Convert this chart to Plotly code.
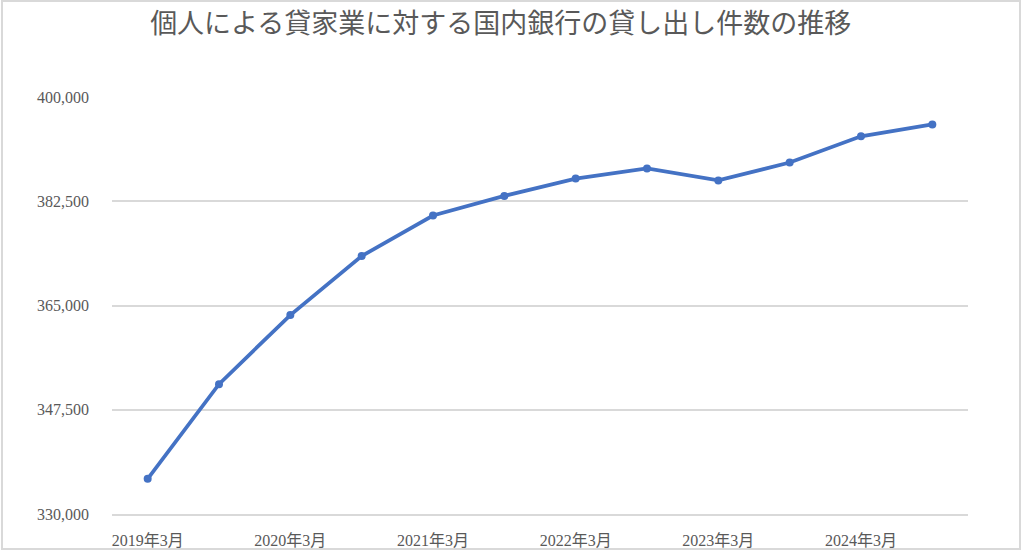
import plotly.graph_objects as go

categories = ["2019年3月", "2019年9月", "2020年3月", "2020年9月", "2021年3月", "2021年9月",
              "2022年3月", "2022年9月", "2023年3月", "2023年9月", "2024年3月", "2024年9月"]
loans = [335900, 351800, 363400, 373300, 380100, 383400,
         386300, 388000, 386000, 389000, 393400, 395400]
tick_labels = ["2019年3月", "2020年3月", "2021年3月", "2022年3月", "2023年3月", "2024年3月"]
y_ticks = [330000, 347500, 365000, 382500, 400000]

fig = go.Figure()
fig.add_trace(go.Scatter(
    x=categories, y=loans, mode="lines+markers",
    line=dict(color="#4472C4", width=3.75),
    marker=dict(color="#4472C4", size=8),
))

serif = "Liberation Serif, Noto Sans CJK JP, serif"
fig.update_layout(
    width=1024, height=552,
    paper_bgcolor="white", plot_bgcolor="white",
    margin=dict(l=112, r=56, t=97, b=38),
    showlegend=False,
    title=dict(
        text="個人による貸家業に対する国内銀行の貸し出し件数の推移",
        x=0.489, xanchor="center", y=0.957, yanchor="middle",
        font=dict(family="Noto Sans CJK JP, sans-serif", size=27, color="#595959"),
    ),
    xaxis=dict(
        type="category", range=[-0.5, 11.5], automargin=False,
        tickmode="array", tickvals=tick_labels, ticktext=tick_labels,
        showgrid=False, showline=True, linecolor="#D9D9D9", linewidth=1.5, ticks="",
        tickfont=dict(family=serif, size=16, color="#595959"),
        ticklabelstandoff=11,
    ),
    yaxis=dict(
        range=[330000, 400000], tickmode="array", tickvals=y_ticks, automargin=False,
        tickformat=",", showgrid=True, gridcolor="#D9D9D9", gridwidth=1.5,
        zeroline=False, showline=False, ticks="",
        tickfont=dict(family=serif, size=16, color="#595959"),
        ticklabelstandoff=22,
    ),
    shapes=[dict(
        type="rect", xref="paper", yref="paper",
        x0=(2 - 112) / 856, x1=(1020 - 112) / 856,
        y0=(514 - 549) / 417, y1=(514 - 1) / 417,
        line=dict(color="#D9D9D9", width=2), layer="below",
    )],
)

fig.write_html("out.html", config={"displayModeBar": False},
               post_script="document.body.style.margin='0';")
